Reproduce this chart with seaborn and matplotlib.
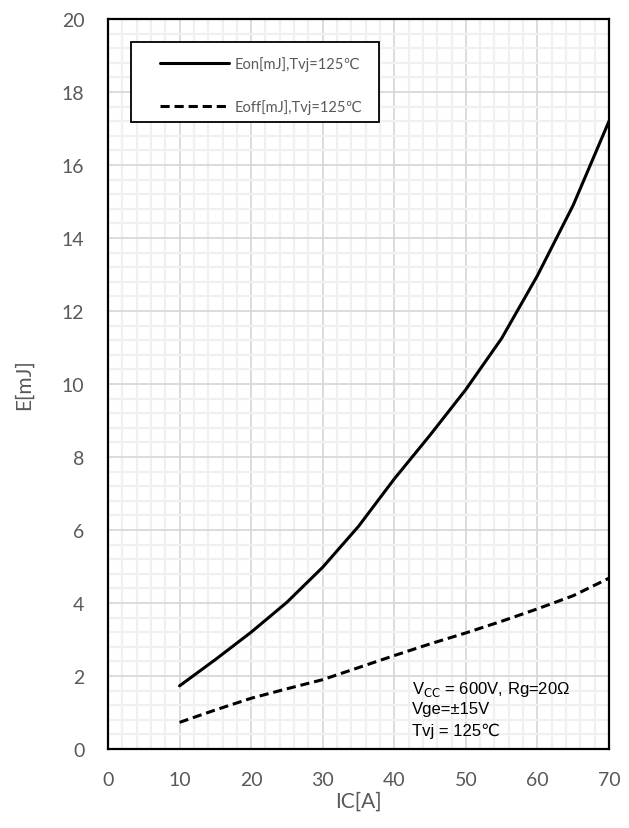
import matplotlib
matplotlib.use("Agg")
import matplotlib.pyplot as plt
from matplotlib.ticker import MultipleLocator
from matplotlib.patches import Rectangle
import seaborn as sns
import pandas as pd

# Data
ic_on = [10, 15, 20, 25, 30, 35, 40, 45, 50, 55, 60, 65, 70]
eon = [1.73, 2.45, 3.20, 4.02, 4.98, 6.10, 7.40, 8.60, 9.85, 11.25, 12.97, 14.90, 17.20]
ic_off = [10, 15, 20, 25, 30, 35, 40, 45, 50, 55, 60, 65, 70]
eoff = [0.73, 1.07, 1.39, 1.65, 1.90, 2.23, 2.56, 2.88, 3.18, 3.50, 3.84, 4.20, 4.68]
label_on = "Eon[mJ],Tvj=125℃"
label_off = "Eoff[mJ],Tvj=125℃"
x_ticks = [0, 10, 20, 30, 40, 50, 60, 70]
y_ticks = [0, 2, 4, 6, 8, 10, 12, 14, 16, 18, 20]

sns.set_style("white")
plt.rcParams['font.family'] = ['Lato', 'DejaVu Sans']

W, H = 629, 829
L, R, T, B = 108, 609, 20, 750
fig = plt.figure(figsize=(W/100, H/100), dpi=100)
ax = fig.add_axes([L/W, 1 - B/H, (R-L)/W, (B-T)/H])

def ax_xy(px, py):
    return ((px - L) / (R - L), (B - py) / (B - T))

df_on = pd.DataFrame({"IC": ic_on, "E": eon})
df_off = pd.DataFrame({"IC": ic_off, "E": eoff})
sns.lineplot(data=df_on, x="IC", y="E", ax=ax, color="black", lw=2.2, label=label_on)
sns.lineplot(data=df_off, x="IC", y="E", ax=ax, color="black", lw=2.2, ls=(0, (3, 1.6)), label=label_off)

ax.set_xlim(0, 70)
ax.set_ylim(0, 20)
ax.set_xticks(x_ticks)
ax.set_yticks(y_ticks)
ax.xaxis.set_minor_locator(MultipleLocator(2))
ax.yaxis.set_minor_locator(MultipleLocator(0.4))
ax.grid(which="major", color="#d9d9d9", lw=1.3, zorder=0)
ax.grid(which="minor", color="#f0f0f0", lw=1.6, zorder=0)
ax.set_axisbelow(True)
ax.tick_params(which="both", length=0)
ax.tick_params(axis="y", pad=17, labelsize=14, labelcolor="#595959")
ax.tick_params(axis="x", pad=16, labelsize=14, labelcolor="#595959")
for s in ax.spines.values():
    s.set_visible(True)
    s.set_color("black")
    s.set_linewidth(1.6)

ax.set_xlabel("IC[A]", fontsize=15, color="#595959", labelpad=2)
ax.set_ylabel("E[mJ]", fontsize=15, color="#595959", labelpad=20)

# legend box
x0, y0 = ax_xy(131, 123)
x1, y1 = ax_xy(379, 43)
ax.add_patch(Rectangle((x0, y0), x1 - x0, y1 - y0, transform=ax.transAxes,
                       facecolor="white", edgecolor="black", lw=1.3, zorder=4))
lx, ly = ax_xy(160, 57)
leg = ax.legend(loc="upper left", bbox_to_anchor=(lx, ly),
                frameon=False, prop={"family": ['Lato', 'DejaVu Sans'], "size": 10.5},
                handlelength=4.7, handletextpad=0.4, borderpad=0, labelspacing=1.95,
                borderaxespad=0)
leg.set_zorder(5)
for t in leg.get_texts():
    t.set_color("#595959")

txt_kw = dict(transform=ax.transAxes, fontsize=12, color="black",
              family=['Liberation Sans', 'DejaVu Sans'], va="center", ha="left")
ax.text(*ax_xy(412, 690), r"V$_{\mathrm{CC}}$ = 600V, Rg=20Ω", **txt_kw)
ax.text(*ax_xy(412, 710), "Vge=±15V", **txt_kw)
ax.text(*ax_xy(412, 731), "Tvj = 125℃", **txt_kw)

fig.savefig("out.png", dpi=100)
